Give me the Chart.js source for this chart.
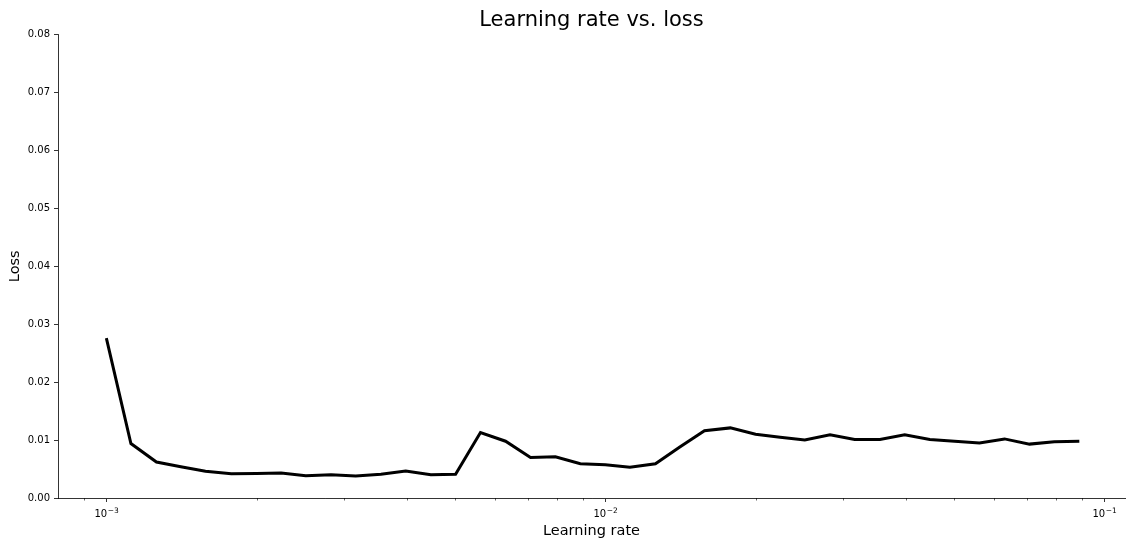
<!DOCTYPE html>
<html>
<head>
<meta charset="utf-8">
<script src="https://cdn.jsdelivr.net/npm/chart.js@4"></script>
<style>
  html, body { margin: 0; padding: 0; background: #fff; }
  #wrap { width: 1127px; height: 540px; }
</style>
</head>
<body>
<div id="wrap"><canvas id="c"></canvas></div>
<script>
// Learning-rate sweep: rate tried and the loss recorded for it
const learningRates = [
  0.001, 0.00112, 0.00126, 0.00141, 0.00158, 0.00178, 0.002, 0.00224, 0.00251, 0.00282,
  0.00316, 0.00355, 0.00398, 0.00447, 0.00501, 0.00562, 0.00631, 0.00708, 0.00794, 0.00891,
  0.01, 0.0112, 0.0126, 0.0141, 0.0158, 0.0178, 0.02, 0.0224, 0.0251, 0.0282,
  0.0316, 0.0355, 0.0398, 0.0447, 0.0501, 0.0562, 0.0631, 0.0708, 0.0794, 0.0891
];
const losses = [
  0.0276, 0.0094, 0.0062, 0.0054, 0.0046, 0.0042, 0.00425, 0.0043, 0.00385, 0.0040,
  0.0038, 0.0041, 0.00465, 0.0040, 0.0041, 0.0113, 0.0098, 0.0070, 0.0071, 0.0059,
  0.00575, 0.0053, 0.0059, 0.0088, 0.0116, 0.0121, 0.0110, 0.0105, 0.0100, 0.0109,
  0.0101, 0.0101, 0.0109, 0.0101, 0.0098, 0.0095, 0.0102, 0.0093, 0.0097, 0.0098
];

// Axis ticks: decades on the log axis are written as 10 with an exponent
const majorXTicks = [0.001, 0.01, 0.1];
const majorXBase = '10';
const majorXExponents = ['\u22123', '\u22122', '\u22121'];
const minorXTicks = [
  0.0009,
  0.002, 0.003, 0.004, 0.005, 0.006, 0.007, 0.008, 0.009,
  0.02, 0.03, 0.04, 0.05, 0.06, 0.07, 0.08, 0.09
];
const yTicks = [0, 0.01, 0.02, 0.03, 0.04, 0.05, 0.06, 0.07, 0.08];

const FONT = "'DejaVu Sans', sans-serif";

// Short unlabeled ticks between the decades, and the "10^n" decade labels
const logAxisPlugin = {
  id: 'logAxisDecor',
  afterDraw(chart) {
    const sx = chart.scales.x;
    const ctx = chart.ctx;
    ctx.save();
    ctx.strokeStyle = '#000';
    ctx.lineWidth = 0.6;
    ctx.beginPath();
    for (const v of minorXTicks) {
      const px = Math.round(sx.getPixelForValue(v)) + 0.5;
      if (px < sx.left || px > sx.right) continue;
      ctx.moveTo(px, sx.top);
      ctx.lineTo(px, sx.top + 2.5);
    }
    ctx.stroke();

    ctx.fillStyle = '#000';
    ctx.textBaseline = 'alphabetic';
    ctx.textAlign = 'left';
    const baseFont = '10px ' + FONT;
    const expFont = '7.5px ' + FONT;
    const baseline = sx.top + 19;
    majorXTicks.forEach((v, i) => {
      const px = sx.getPixelForValue(v);
      ctx.font = baseFont;
      const wBase = ctx.measureText(majorXBase).width;
      ctx.font = expFont;
      const wExp = ctx.measureText(majorXExponents[i]).width;
      const start = px - (wBase + wExp) / 2;
      ctx.font = baseFont;
      ctx.fillText(majorXBase, start, baseline);
      ctx.font = expFont;
      ctx.fillText(majorXExponents[i], start + wBase + 0.5, baseline - 4);
    });
    ctx.restore();
  }
};

new Chart(document.getElementById('c'), {
  type: 'line',
  data: {
    datasets: [{
      data: learningRates.map((x, i) => ({ x, y: losses[i] })),
      borderColor: '#000',
      borderWidth: 3,
      pointRadius: 0,
      tension: 0,
      fill: false
    }]
  },
  plugins: [logAxisPlugin],
  options: {
    responsive: true,
    maintainAspectRatio: false,
    animation: false,
    layout: { padding: { left: 0, right: 2, top: 0, bottom: 0 } },
    plugins: {
      legend: { display: false },
      tooltip: { enabled: false },
      title: {
        display: true,
        fullSize: false,
        text: 'Learning rate vs. loss',
        color: '#000',
        font: { family: FONT, size: 21, weight: 'normal' },
        padding: { top: 8, bottom: 1.3 }
      }
    },
    scales: {
      x: {
        type: 'logarithmic',
        min: 0.0008,
        max: 0.110,
        afterBuildTicks(scale) {
          scale.ticks = majorXTicks.map(v => ({ value: v }));
        },
        afterFit(scale) { scale.height = 42; },
        ticks: { display: false },
        grid: {
          drawOnChartArea: false,
          drawTicks: true,
          tickLength: 4,
          tickColor: '#000',
          tickWidth: 0.8
        },
        border: { display: true, color: '#000', width: 0.8 },
        title: {
          display: true,
          text: 'Learning rate',
          color: '#000',
          font: { family: FONT, size: 14.5 },
          padding: { top: 0, bottom: 0 }
        }
      },
      y: {
        min: 0,
        max: 0.08,
        afterBuildTicks(scale) {
          scale.ticks = yTicks.map(v => ({ value: v }));
        },
        afterFit(scale) { scale.width = 58; },
        ticks: {
          color: '#000',
          font: { family: FONT, size: 10 },
          padding: 4,
          callback: (v) => Number(v).toFixed(2)
        },
        grid: {
          drawOnChartArea: false,
          drawTicks: true,
          tickLength: 4,
          tickColor: '#000',
          tickWidth: 0.8
        },
        border: { display: true, color: '#000', width: 0.8 },
        title: {
          display: true,
          text: 'Loss',
          color: '#000',
          font: { family: FONT, size: 14.5 },
          padding: { top: 7, bottom: 0 }
        }
      }
    }
  }
});
</script>
</body>
</html>
